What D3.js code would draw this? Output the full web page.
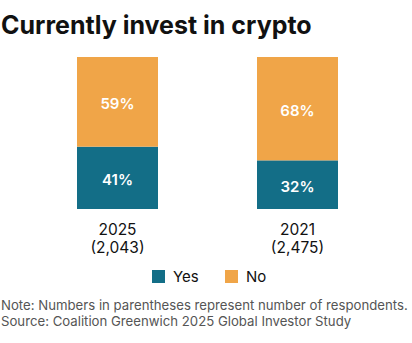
<!DOCTYPE html>
<html>
<head>
<meta charset="utf-8">
<script src="https://cdn.jsdelivr.net/npm/d3@7"></script>
<style>
  html, body { margin: 0; padding: 0; background: #fff; }
  svg { display: block; }
</style>
</head>
<body>
<div id="chart"></div>
<script>
// --- Data ---
const categories = ["2025", "2021"];
const respondents = ["(2,043)", "(2,475)"];
const yesValues = [41, 32];
const noValues = [59, 68];
const seriesNames = ["Yes", "No"];
const title = "Currently invest in crypto";
const notes = [
  "Note: Numbers in parentheses represent number of respondents.",
  "Source: Coalition Greenwich 2025 Global Investor Study"
];

const W = 412, H = 343;
const colors = { Yes: "#136e87", No: "#f0a548" };
const font = "Inter, 'Liberation Sans', sans-serif";

const svg = d3.select("#chart").append("svg")
  .attr("width", W).attr("height", H)
  .style("font-family", font);

// title
svg.append("text")
  .attr("x", 1).attr("y", 34)
  .style("font-size", "25px").style("font-weight", 700)
  .style("fill", "#111")
  .text(title);

// --- Scales ---
const x = d3.scaleBand()
  .domain(categories)
  .range([27.5, 387.5])
  .paddingInner(0.55)
  .paddingOuter(0.275);

const y = d3.scaleLinear().domain([0, 100]).range([209, 57]);

const stacked = d3.stack().keys(seriesNames)(
  categories.map((c, i) => ({ cat: c, Yes: yesValues[i], No: noValues[i] }))
);

// --- Bars ---
const layers = svg.selectAll("g.layer")
  .data(stacked)
  .join("g")
  .attr("class", "layer")
  .attr("fill", d => colors[d.key]);

layers.selectAll("rect")
  .data(d => d)
  .join("rect")
  .attr("x", d => x(d.data.cat))
  .attr("y", d => y(d[1]))
  .attr("width", x.bandwidth())
  .attr("height", d => y(d[0]) - y(d[1]));

layers.selectAll("text")
  .data(d => d.map(v => ({ v, key: d.key })))
  .join("text")
  .attr("x", d => x(d.v.data.cat) + x.bandwidth() / 2)
  .attr("y", d => (y(d.v[0]) + y(d.v[1])) / 2 + 2)
  .attr("dy", "0.35em")
  .attr("text-anchor", "middle")
  .style("fill", "#fff")
  .style("font-size", "15px").style("font-weight", 600)
  .text(d => d.v.data[d.key] + "%");

// --- Category labels ---
const catG = svg.append("g");
categories.forEach((c, i) => {
  const cx = x(c) + x.bandwidth() / 2;
  catG.append("text")
    .attr("x", cx).attr("y", 234.5)
    .attr("text-anchor", "middle")
    .style("font-size", "15.5px").style("fill", "#111")
    .text(c);
  catG.append("text")
    .attr("x", cx).attr("y", 252.5)
    .attr("text-anchor", "middle")
    .style("font-size", "15.5px").style("fill", "#111")
    .text(respondents[i]);
});

// --- Legend ---
const legend = svg.append("g").attr("transform", "translate(152, 270)");
const lx = [0, 73];
seriesNames.forEach((s, i) => {
  const g = legend.append("g").attr("transform", `translate(${lx[i]}, 0)`);
  g.append("rect").attr("width", 13).attr("height", 13).attr("fill", colors[s]);
  g.append("text").attr("x", 21).attr("y", 12)
    .style("font-size", "15px").style("fill", "#111").text(s);
});

// --- Notes ---
svg.selectAll("text.note")
  .data(notes)
  .join("text")
  .attr("class", "note")
  .attr("x", 1)
  .attr("y", (d, i) => 310 + i * 16)
  .style("font-size", "13.2px")
  .style("fill", "#555")
  .text(d => d);
</script>
</body>
</html>
